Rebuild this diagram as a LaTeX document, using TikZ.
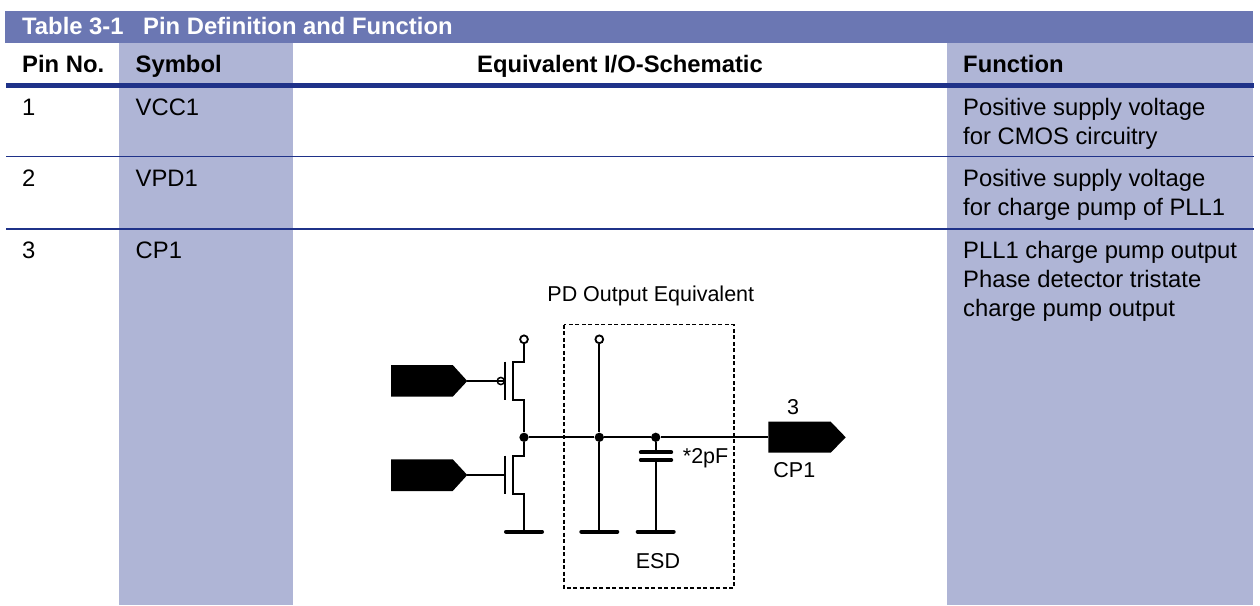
\documentclass[tikz,border=0pt]{standalone}
\usepackage{fontspec}
\setmainfont{Liberation Sans}
\definecolor{band}{HTML}{6B77B3}
\definecolor{lightcol}{HTML}{AFB5D6}
\definecolor{rulecol}{HTML}{1F3289}
\tikzset{
  bandtxt/.style={anchor=base west,inner sep=0pt,font=\fontsize{23.8}{28}\selectfont\bfseries,text=white},
  headtxt/.style={anchor=base west,inner sep=0pt,font=\fontsize{23.8}{28}\selectfont\bfseries},
  celltxt/.style={anchor=base west,inner sep=0pt,font=\fontsize{23.8}{28}\selectfont},
  schtxt/.style={anchor=base,inner sep=0pt,font=\fontsize{21.5}{25}\selectfont},
  wire/.style={line width=1.8pt,black},
  gnd/.style={line width=4pt,black,line cap=round},
  dot/.style={circle,fill=black,inner sep=0pt,minimum size=9.3pt},
  open/.style={circle,draw=black,fill=white,line width=1.8pt,inner sep=0pt,minimum size=7.8pt},
  bub/.style={circle,draw=black,line width=1.5pt,inner sep=0pt,minimum size=7.2pt},
  thinrule/.style={line width=1.8pt,rulecol}
}
\begin{document}
\begin{tikzpicture}[x=1pt,y=-1pt]
\useasboundingbox (0,0) rectangle (1260,605);
% table bands
\fill[lightcol] (119,43) rectangle (293,605);
\fill[lightcol] (947,43) rectangle (1253,605);
\fill[band] (5,11) rectangle (1253,43);
\fill[rulecol] (6,83) rectangle (1254,88);
\draw[thinrule] (6,156.5) -- (1254,156.5);
\draw[thinrule] (6,229) -- (1254,229);
% title and headers
\node[bandtxt] (title1) at (22,34.7) {Table 3-1};
\node[bandtxt] (title2) at (143,34.7) {Pin Definition and Function};
\node[headtxt] (hpin) at (22,72) {Pin No.};
\node[headtxt] (hsym) at (135.5,72) {Symbol};
\node[headtxt,anchor=base] (hsch) at (620,72) {Equivalent I/O-Schematic};
\node[headtxt] (hfun) at (963,72) {Function};
% rows
\node[celltxt] (p1) at (22,115) {1};
\node[celltxt] (s1) at (135.5,115) {VCC1};
\node[celltxt] (f1a) at (963,115) {Positive supply voltage};
\node[celltxt] (f1b) at (963,144) {for CMOS circuitry};
\node[celltxt] (p2) at (22,186.7) {2};
\node[celltxt] (s2) at (135.5,186.7) {VPD1};
\node[celltxt] (f2a) at (963,186.7) {Positive supply voltage};
\node[celltxt] (f2b) at (963,215.5) {for charge pump of PLL1};
\node[celltxt] (p3) at (22,258.5) {3};
\node[celltxt] (s3) at (135.5,258.5) {CP1};
\node[celltxt] (f3a) at (963,258.5) {PLL1 charge pump output};
\node[celltxt] (f3b) at (963,287.5) {Phase detector tristate};
\node[celltxt] (f3c) at (963,316.7) {charge pump output};
% schematic labels
\node[schtxt] (pdlbl) at (650.8,301) {PD Output Equivalent};
\node[schtxt] (pin3) at (793,414.7) {3};
\node[schtxt] (cp1) at (794.3,477.7) {CP1};
\node[schtxt,anchor=base west] (cval) at (682.7,463.3) {*2pF};
\node[schtxt] (esd) at (658,568.3) {ESD};
% dashed box
\draw[line width=1.7pt,dash pattern=on 4pt off 2.5pt] (563.7,324.5) rectangle (733.7,588);
% named points
\node[open] (vdd1) at (524,339.3) {};
\node[open] (vdd2) at (599.3,339.3) {};
\node[dot] (j1) at (524,437.3) {};
\node[dot] (j2) at (599.3,437.3) {};
\node[dot] (j3) at (655.7,437.3) {};
\coordinate (g1) at (524,531.7);
\coordinate (g2) at (599.3,531.7);
\coordinate (g3) at (655.7,531.7);
\coordinate (pa) at (467.3,381);
\coordinate (pb) at (467.3,475);
\coordinate (pc) at (768.3,437.3);
\coordinate (ga) at (505.3,381);
\coordinate (gb) at (505.3,475);
\coordinate (c1) at (655.7,452.3);
\coordinate (c2) at (655.7,460);
% pins
\fill[black] (391,365) -- (452.7,365) -- (pa) -- (452.7,396.7) -- (391,396.7) -- cycle;
\fill[black] (391,459.3) -- (452.7,459.3) -- (pb) -- (452.7,491) -- (391,491) -- cycle;
\fill[black] (768.3,421.7) -- (830.7,421.7) -- (845.7,437.3) -- (830.7,452.7) -- (768.3,452.7) -- cycle;
% upper PMOS
\draw[wire,line join=miter] (vdd1) -- (524,362) -- (512.7,362) -- (512.7,400) -- (524,400) -- (j1);
\draw[wire] (505.3,361.7) -- (505.3,400);
\draw[wire] (pa) -- (ga);
\node[bub] (bubble) at (500.8,381) {};
% lower NMOS
\draw[wire,line join=miter] (j1) -- (524,455.7) -- (512.7,455.7) -- (512.7,494) -- (524,494) -- (g1);
\draw[wire] (505.3,455.7) -- (505.3,494);
\draw[wire] (pb) -- (gb);
% output rail
\draw[wire] (j1) -- (j2);
\draw[wire] (j2) -- (j3);
\draw[wire] (j3) -- (pc);
\draw[wire] (vdd2) -- (j2);
\draw[wire] (j2) -- (g2);
\draw[wire] (j3) -- (c1);
\draw[wire] (c2) -- (g3);
% capacitor
\draw[gnd] (640.8,452.3) -- (671.2,452.3);
\draw[gnd] (640.8,460) -- (671.2,460);
% grounds
\draw[gnd] (506,531.7) -- (542,531.7);
\draw[gnd] (581.3,531.7) -- (617.3,531.7);
\draw[gnd] (637.7,531.7) -- (673.7,531.7);
\end{tikzpicture}
\end{document}
